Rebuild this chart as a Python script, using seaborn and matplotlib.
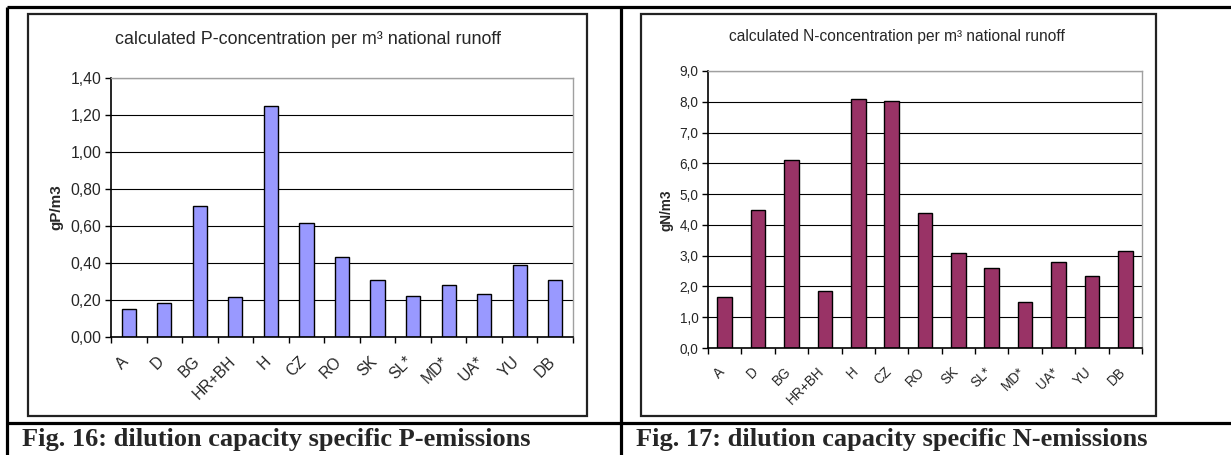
import matplotlib
matplotlib.use("Agg")
import matplotlib.pyplot as plt
import seaborn as sns
import pandas as pd
from matplotlib.patches import Rectangle
from matplotlib.lines import Line2D
from matplotlib.ticker import FuncFormatter, FixedLocator

countries = ["A", "D", "BG", "HR+BH", "H", "CZ", "RO", "SK", "SL*", "MD*", "UA*", "YU", "DB"]
p_conc = [0.15, 0.185, 0.71, 0.215, 1.25, 0.615, 0.43, 0.31, 0.22, 0.28, 0.235, 0.39, 0.31]
n_conc = [1.65, 4.48, 6.12, 1.85, 8.08, 8.02, 4.40, 3.10, 2.60, 1.50, 2.80, 2.35, 3.15]

sns.set_style("white")
plt.rcParams['font.family'] = ['Liberation Sans', 'DejaVu Sans']

W, H = 1231, 455
fig = plt.figure(figsize=(W / 100, H / 100), dpi=100)


def px(x, y):
    # pixel coords from top-left -> figure fraction
    return x / W, 1 - y / H


def box(x0, y0, x1, y1):
    return [x0 / W, 1 - y1 / H, (x1 - x0) / W, (y1 - y0) / H]


def draw_chart(rect, vals, color, bar_w, ylim, step, fmt, fs):
    ax = fig.add_axes(rect)
    df = pd.DataFrame({"country": countries, "val": vals})
    sns.barplot(data=df, x="country", y="val", color=color, edgecolor="black",
                linewidth=1.0, width=bar_w, saturation=1, ax=ax)
    ax.set_xlim(-0.5, len(countries) - 0.5)
    ax.set_ylim(0, ylim)
    ticks = [i * step for i in range(int(round(ylim / step)) + 1)]
    ax.set_yticks(ticks)
    ax.yaxis.set_major_formatter(FuncFormatter(lambda v, p: fmt.format(v).replace(".", ",")))
    ax.grid(axis="y", color="black", linewidth=0.8)
    ax.set_axisbelow(True)
    # excel puts the end of the rotated label a bit left of the category centre
    ax.set_xticks([i - 0.22 for i in range(len(countries))])
    ax.set_xticklabels(countries, rotation=45, ha="right", rotation_mode="anchor", fontsize=fs)
    ax.xaxis.set_minor_locator(FixedLocator([i - 0.5 for i in range(len(countries) + 1)]))
    ax.tick_params(axis="x", which="major", length=0, pad=12)
    ax.tick_params(axis="x", which="minor", length=4, width=1, color="black", direction="out", bottom=True)
    ax.tick_params(axis="y", length=4, width=1, color="black", direction="out", left=True, labelsize=fs, pad=3)
    for s in ["left", "bottom"]:
        ax.spines[s].set_color("black")
        ax.spines[s].set_linewidth(1.2)
    for s in ["top", "right"]:
        ax.spines[s].set_color("#a0a0a0")
        ax.spines[s].set_linewidth(1.0)
    ax.set_xlabel("")
    ax.set_ylabel("")
    return ax


draw_chart(box(111, 78, 573, 337), p_conc, "#9999FF", 0.40, 1.40, 0.20, "{:.2f}", 11.3)
draw_chart(box(708, 71, 1142, 348), n_conc, "#993366", 0.44, 9.0, 1.0, "{:.1f}", 9.8)

# chart titles and axis labels
fig.text(*px(308, 39), "calculated P-concentration per m³ national runoff",
         ha="center", va="center", fontsize=12.9)
fig.text(*px(897, 37), "calculated N-concentration per m³ national runoff",
         ha="center", va="center", fontsize=11.2)
fig.text(*px(56, 207), "gP/m3", rotation=90, ha="center", va="center", fontsize=11, fontweight="bold")
fig.text(*px(666, 210), "gN/m3", rotation=90, ha="center", va="center", fontsize=9.8, fontweight="bold")

# chart frames
for x0, y0, x1, y1 in [(28, 14, 587, 416), (641, 14, 1156, 416)]:
    fig.add_artist(Rectangle((x0 / W, 1 - y1 / H), (x1 - x0) / W, (y1 - y0) / H,
                             transform=fig.transFigure, fill=False, edgecolor="#222222", linewidth=1.6))

# table lines
for (xa, ya), (xb, yb) in [((7, 7), (1231, 7)), ((7, 7), (7, 455)), ((621, 7), (621, 455)),
                           ((7, 423), (1231, 423))]:
    a = px(xa, ya)
    b = px(xb, yb)
    fig.add_artist(Line2D([a[0], b[0]], [a[1], b[1]], transform=fig.transFigure,
                          color="black", linewidth=2.3, solid_capstyle="butt"))

# captions
fig.text(*px(22, 446), "Fig. 16: dilution capacity specific P-emissions", ha="left", va="baseline",
         fontsize=19, fontweight="bold", family=["Liberation Serif", "DejaVu Serif"])
fig.text(*px(636, 446), "Fig. 17: dilution capacity specific N-emissions", ha="left", va="baseline",
         fontsize=19, fontweight="bold", family=["Liberation Serif", "DejaVu Serif"])

fig.savefig("out.png", dpi=100)
